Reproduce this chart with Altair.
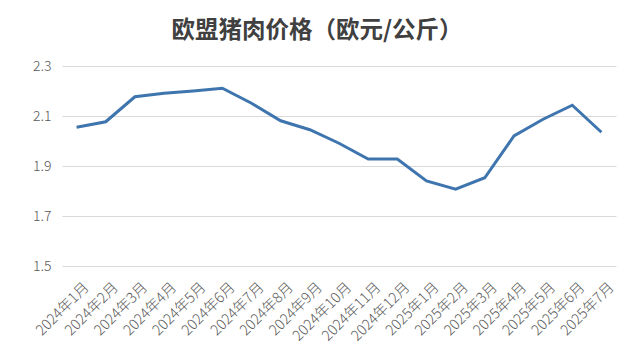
import altair as alt
import pandas as pd

months = ["2024年1月", "2024年2月", "2024年3月", "2024年4月", "2024年5月", "2024年6月",
          "2024年7月", "2024年8月", "2024年9月", "2024年10月", "2024年11月", "2024年12月",
          "2025年1月", "2025年2月", "2025年3月", "2025年4月", "2025年5月", "2025年6月",
          "2025年7月"]
prices = [2.055, 2.077, 2.177, 2.191, 2.200, 2.211, 2.151, 2.081, 2.045, 1.991,
          1.928, 1.928, 1.840, 1.807, 1.853, 2.020, 2.087, 2.143, 2.035]
y_ticks = [1.5, 1.7, 1.9, 2.1, 2.3]

df = pd.DataFrame({"month": months, "price": prices})

font = "Noto Sans CJK SC"

chart = alt.Chart(df).mark_line(color="#3F75AE", strokeWidth=3).encode(
    x=alt.X("month:N", sort=months, title=None,
            scale=alt.Scale(type="point", padding=0.5),
            axis=alt.Axis(labelAngle=-45, labelFontSize=14.5, labelColor="#595959",
                          labelFont=font, labelFontWeight=300, ticks=False,
                          tickOpacity=0, domain=False, grid=False, labelPadding=14,
                          labelOffset=5, labelOverlap=False)),
    y=alt.Y("price:Q", title=None,
            scale=alt.Scale(domain=[1.5, 2.3], nice=False, zero=False),
            axis=alt.Axis(values=y_ticks, format=".1f", labelFontSize=14,
                          labelColor="#595959", labelFont=font, labelFontWeight=300,
                          ticks=False, tickOpacity=0, domain=False,
                          gridColor="#D9D9D9", gridWidth=1, labelPadding=11)),
).properties(
    width=554,
    height=200,
    title=alt.TitleParams("欧盟猪肉价格（欧元/公斤）", fontSize=23.5, fontWeight="bold",
                          color="#404040", font=font, anchor="middle", dx=-22,
                          offset=17),
    autosize=alt.AutoSizeParams(type="none"),
    padding={"left": 54, "top": 58, "right": 11, "bottom": 88},
    view=alt.ViewBackground(stroke="white", strokeWidth=0, strokeOpacity=0),
).configure(background="white").configure_view(
    stroke="white", strokeWidth=0, strokeOpacity=0
)

chart.save("out.html", embed_options={"renderer": "svg", "actions": False})
